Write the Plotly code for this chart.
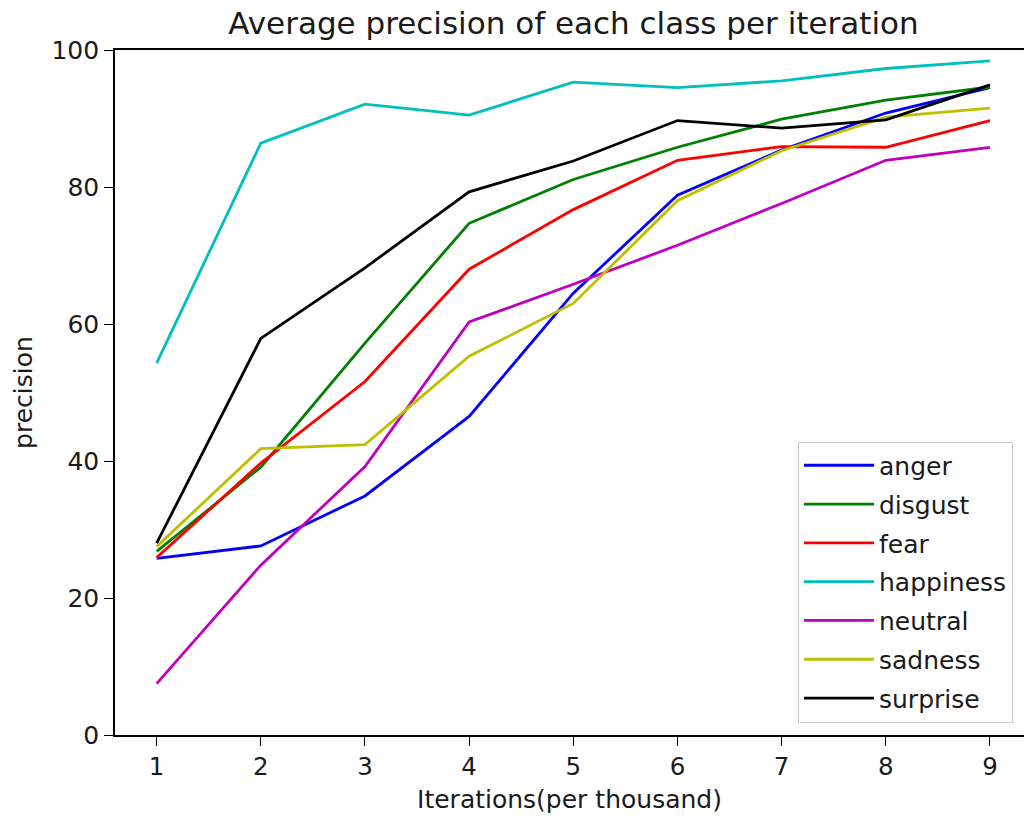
import plotly.graph_objects as go

iterations = [1, 2, 3, 4, 5, 6, 7, 8, 9]
class_names = ["anger", "disgust", "fear", "happiness", "neutral", "sadness", "surprise"]
anger = [25.8, 27.6, 34.9, 46.5, 64.5, 78.8, 85.4, 90.8, 94.5]
disgust = [26.8, 39.1, 57.2, 74.7, 81.1, 85.8, 89.9, 92.7, 94.6]
fear = [25.9, 39.7, 51.6, 68.0, 76.7, 83.9, 85.9, 85.8, 89.7]
happiness = [54.3, 86.4, 92.1, 90.5, 95.3, 94.5, 95.5, 97.3, 98.4]
neutral = [7.5, 24.8, 39.2, 60.3, 65.8, 71.5, 77.6, 83.9, 85.8]
sadness = [27.5, 41.8, 42.4, 55.3, 63.0, 78.0, 85.3, 90.2, 91.5]
surprise = [28.0, 57.9, 68.2, 79.3, 83.8, 89.7, 88.6, 89.8, 94.9]
series = [anger, disgust, fear, happiness, neutral, sadness, surprise]
colors = ["#0000ff", "#008000", "#ff0000", "#00bfbf", "#bf00bf", "#bfbf00", "#000000"]
y_ticks = [0, 20, 40, 60, 80, 100]

FONT = "DejaVu Sans"
TXT = "#1a1a1a"
W, H = 1024, 819
L, R, T, B = 115, 0, 50, 84

fig = go.Figure()
for name, vals, col in zip(class_names, series, colors):
    fig.add_trace(go.Scatter(
        x=iterations, y=vals, mode="lines", name=name, legendgroup=name,
        line=dict(color=col, width=2.8),
    ))

# matplotlib x range 0.6..9.4 ends at ~1031.6px, beyond the 1024px canvas
x_right = 0.6 + (W - L) / ((1031.6 - L) / 8.8)

fig.update_layout(
    width=W, height=H,
    margin=dict(l=L, r=R, t=T, b=B, autoexpand=False),
    paper_bgcolor="white", plot_bgcolor="white",
    font=dict(family=FONT, size=24.5, color=TXT),
    title=dict(
        text="Average precision of each class per iteration",
        x=(573.5 - L) / (W - L), xref="paper", xanchor="center",
        y=1 - 23 / H, yref="container", yanchor="middle",
        font=dict(family=FONT, size=31, color=TXT),
    ),
    xaxis=dict(
        range=[0.6, x_right], tickvals=iterations, ticktext=[str(i) for i in iterations],
        showgrid=False, zeroline=False, showline=True, linecolor="#000000", linewidth=1.6,
        mirror=True, ticks="outside", ticklen=9, tickwidth=1.4, tickcolor="#000000",
        tickfont=dict(family=FONT, size=24.5, color=TXT),
        title=dict(text="Iterations(per thousand)", standoff=10,
                   font=dict(family=FONT, size=25, color=TXT)),
        automargin=False,
    ),
    yaxis=dict(
        range=[0, 100], tickvals=y_ticks,
        showgrid=False, zeroline=False, showline=True, linecolor="#000000", linewidth=1.6,
        mirror=False, ticks="outside", ticklen=9, tickwidth=1.4, tickcolor="#000000",
        tickfont=dict(family=FONT, size=25, color=TXT),
        title=dict(text="precision", standoff=12,
                   font=dict(family=FONT, size=25, color=TXT)),
        automargin=False,
    ),
    legend=dict(
        x=(798 - L) / (W - L), xanchor="left",
        y=(735 - 441.5) / (H - T - B), yanchor="top",
        bgcolor="rgba(255,255,255,0.8)", bordercolor="#cccccc", borderwidth=1,
        font=dict(family=FONT, size=25, color=TXT),
        itemwidth=70, tracegroupgap=3.3,
    ),
    showlegend=True,
)

fig.write_html("out.html")
